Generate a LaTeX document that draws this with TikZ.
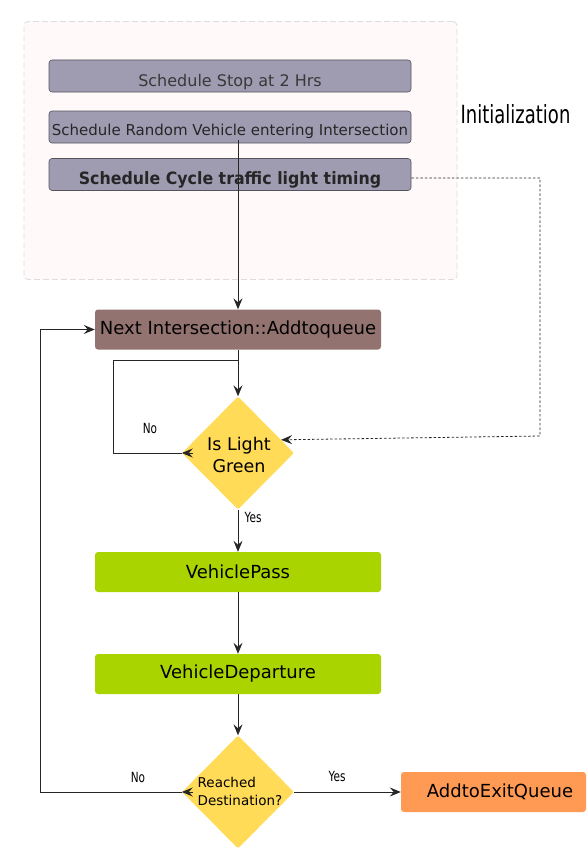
\documentclass[tikz,border=0pt]{standalone}
\usepackage{fontspec}
\setmainfont{DejaVu Sans}
\usetikzlibrary{shapes.geometric,arrows.meta,calc}
\definecolor{contfill}{HTML}{FFFAF9}
\definecolor{contline}{HTML}{DDDDDD}
\definecolor{schedfill}{HTML}{9F9CB2}
\definecolor{schedline}{HTML}{55545E}
\definecolor{nifill}{HTML}{937370}
\definecolor{diafill}{HTML}{FFDB58}
\definecolor{greenfill}{HTML}{AAD400}
\definecolor{orangefill}{HTML}{FF9A55}
\begin{document}
\begin{tikzpicture}[x=1pt,y=-1pt,
  container/.style={draw=contline, dashed, dash pattern=on 6pt off 3pt, fill=contfill, rounded corners=4pt, line width=0.8pt, minimum width=433pt, minimum height=258pt, inner sep=0pt},
  schedbox/.style={draw=schedline, fill=schedfill, rounded corners=3pt, line width=0.6pt, minimum width=362pt, minimum height=32pt, inner sep=0pt, text=black!85, text depth=0pt},
  flowbox/.style={rounded corners=3pt, minimum width=286pt, minimum height=40pt, inner sep=0pt, font=\fontsize{18}{21}\selectfont},
  dia/.style={diamond, shape aspect=1, fill=diafill, minimum width=112pt, minimum height=113pt, inner sep=0pt, rounded corners=2pt},
  diatext/.style={align=center, inner sep=0pt},
  lbl/.style={inner sep=0pt, font=\fontsize{14}{15}\selectfont},
  arr/.style={draw=black!85, line width=0.9pt, -{Stealth[length=11pt,width=9pt,inset=4pt]}},
  tip/.style={draw=black!85, line width=0.9pt, -{Stealth[length=11pt,width=9pt,inset=4pt]}},
  plain/.style={draw=black!85, line width=0.9pt},
  dotarr/.style={draw=black!85, line width=0.8pt, dash pattern=on 2.5pt off 2pt, -{Stealth[length=11pt,width=9pt,inset=4pt]}}
]
\useasboundingbox (0,0) rectangle (588,851);

% Initialization container
\node[container] (cont) at (240.5,150.5) {};
\node[inner sep=0pt, font=\fontsize{25}{28}\selectfont] (inittxt) at (515.5,114) {\scalebox{0.72}[1]{Initialization}};

\node[schedbox, font=\fontsize{16}{18}\selectfont, text=black!78, text height=20pt] (b1) at (230,76) {Schedule Stop at 2 Hrs};
\node[schedbox, font=\fontsize{15}{18}\selectfont, text height=17.4pt] (b2) at (230,127) {Schedule Random Vehicle entering Intersection};
\node[schedbox, font=\fontsize{17}{20}\selectfont\bfseries, text height=19.6pt] (b3) at (230,174.5) {\scalebox{0.93}[1]{Schedule Cycle traffic light timing}};

% Flow nodes
\node[flowbox, fill=nifill] (ni) at (238,329.5) {Next Intersection::Addtoqueue};
\node[dia] (d1) at (238,453) {};
\node[diatext, font=\fontsize{17.5}{22}\selectfont] (d1t) at (239,455) {Is Light\\Green};
\node[flowbox, fill=greenfill] (vp) at (238,572) {VehiclePass};
\node[flowbox, fill=greenfill] (vd) at (238,674) {VehicleDeparture};
\node[dia] (d2) at (238,792) {};
\node[diatext, align=left, font=\fontsize{13.5}{18}\selectfont] (d2t) at (240,791) {Reached\\Destination?};
\node[rounded corners=3pt, fill=orangefill, minimum width=185pt, minimum height=40pt, inner sep=0pt] (ex) at (493.5,792) {};
\node[inner sep=0pt, font=\fontsize{18}{21}\selectfont] (ext) at (500,792) {AddtoExitQueue};

% coordinates
\coordinate (s0) at (238,140);
\coordinate (br) at (238,360);
\coordinate (lp) at (113,360);
\coordinate (c1) at (540,178);
\coordinate (c2) at (540,436);
\coordinate (c3) at (40,792);

% connectors
\draw[arr] (s0) -- (ni.north);
\draw[arr] (ni.south) -- (d1.north);
\draw[plain] (br) -- (lp) |- (d1.west);
\draw[tip] ([xshift=11pt]d1.west) -- (d1.west);
\draw[dotarr] ([yshift=-3.5pt]b3.east) -- (c1) -- (c2) -- (d1.17);
\draw[arr] (d1.south) -- (vp.north);
\draw[arr] (vp.south) -- (vd.north);
\draw[arr] (vd.south) -- (d2.north);
\draw[arr] (d2.east) -- (ex.west);
\draw[arr] (d2.west) -- (c3) |- (ni.west);
\draw[tip] ([xshift=11pt]d2.west) -- (d2.west);

% labels
\node[lbl] (no1) at (150,428) {\scalebox{0.75}[1]{No}};
\node[lbl] (yes1) at (253,517) {\scalebox{0.75}[1]{Yes}};
\node[lbl] (no2) at (138,777) {\scalebox{0.75}[1]{No}};
\node[lbl] (yes2) at (337,776) {\scalebox{0.75}[1]{Yes}};
\end{tikzpicture}
\end{document}
